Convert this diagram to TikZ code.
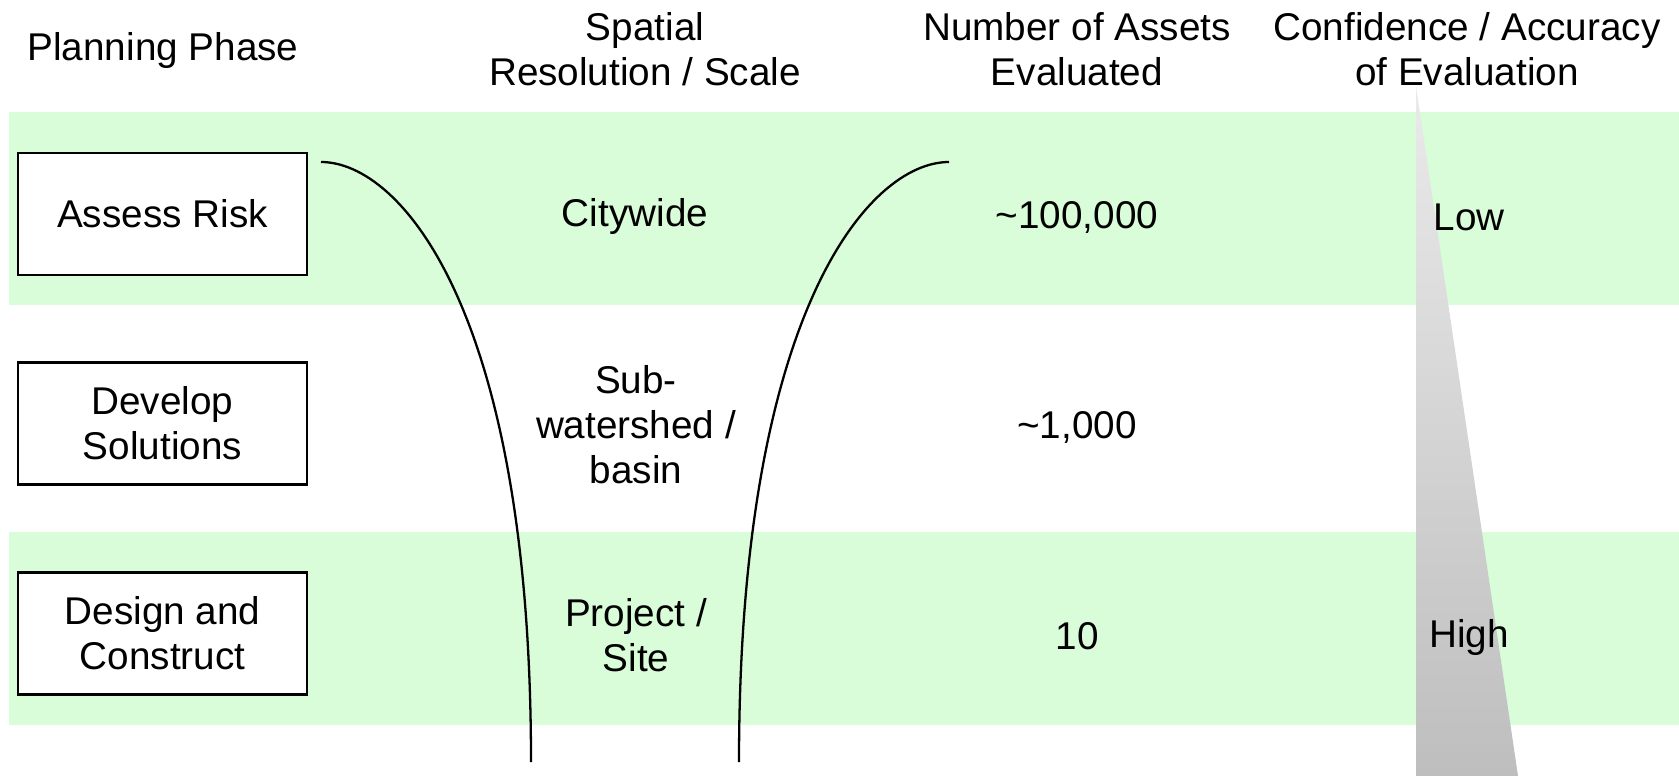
\documentclass[tikz,border=0pt]{standalone}
\usepackage{fontspec}
\setmainfont{Liberation Sans}
\usetikzlibrary{positioning}
\definecolor{bandgreen}{RGB}{217,252,217}
\definecolor{wedgetop}{RGB}{234,234,234}
\definecolor{wedgebot}{RGB}{190,190,190}

\begin{document}
\begin{tikzpicture}[x=0.01cm, y=-0.01cm, font=\fontsize{11}{12.8}\selectfont,
    phase/.style={draw, fill=white, line width=0.7pt, align=center, minimum width=2.89cm, minimum height=1.22cm, inner sep=0pt},
    celltext/.style={align=center},
    funnel/.style={line width=0.65pt}]
            \useasboundingbox (0,0) rectangle (1679,776);

            % First, the green bands behind the first and the last row
            \fill [bandgreen] (9,112) rectangle (1679,305);
            \fill [bandgreen] (9,532) rectangle (1679,725);

            % Grey wedge for the confidence column
            \shade [top color=wedgetop, bottom color=wedgebot] (1416,86) -- (1518,776) -- (1416,776) -- cycle;

            % Column headings
            \node [celltext] (headPhase) at (163,51) {Planning Phase};
            \node [celltext] (headScale) at (645,49) {Spatial\\Resolution / Scale};
            \node [celltext] (headAssets) at (1077,49) {Number of Assets\\Evaluated};
            \node [celltext] (headConf) at (1467,49) {Confidence / Accuracy\\of Evaluation};

            % Planning phases
            \node [phase] (assess) at (162.5,214) {Assess Risk};
            \node [phase] (develop) at (162.5,423.5) {Develop\\Solutions};
            \node [phase] (design) at (162.5,633.5) {Design and\\Construct};

            % Spatial scale
            \node [celltext] (citywide) at (635,217) {Citywide};
            \node [celltext] (subshed) at (636,425) {Sub-\\watershed /\\basin};
            \node [celltext] (project) at (636,635) {Project /\\Site};

            % Number of assets
            \node [celltext] (manyAssets) at (1077,217) {\textasciitilde100,000};
            \node [celltext] (someAssets) at (1077,427) {\textasciitilde1,000};
            \node [celltext] (fewAssets) at (1077,636) {10};

            % Confidence
            \node [celltext] (confLow) at (1469,217) {Low};
            \node [celltext] (confHigh) at (1469,637) {High};

            % Funnel sides
            \coordinate (leftTop) at (321,162);
            \coordinate (leftBottom) at (531,762);
            \coordinate (rightTop) at (949,162);
            \coordinate (rightBottom) at (739,762);
            \draw [funnel] (leftTop) .. controls (401,162) and (531,312) .. (leftBottom);
            \draw [funnel] (rightTop) .. controls (869,162) and (739,312) .. (rightBottom);
        \end{tikzpicture}
\end{document}
